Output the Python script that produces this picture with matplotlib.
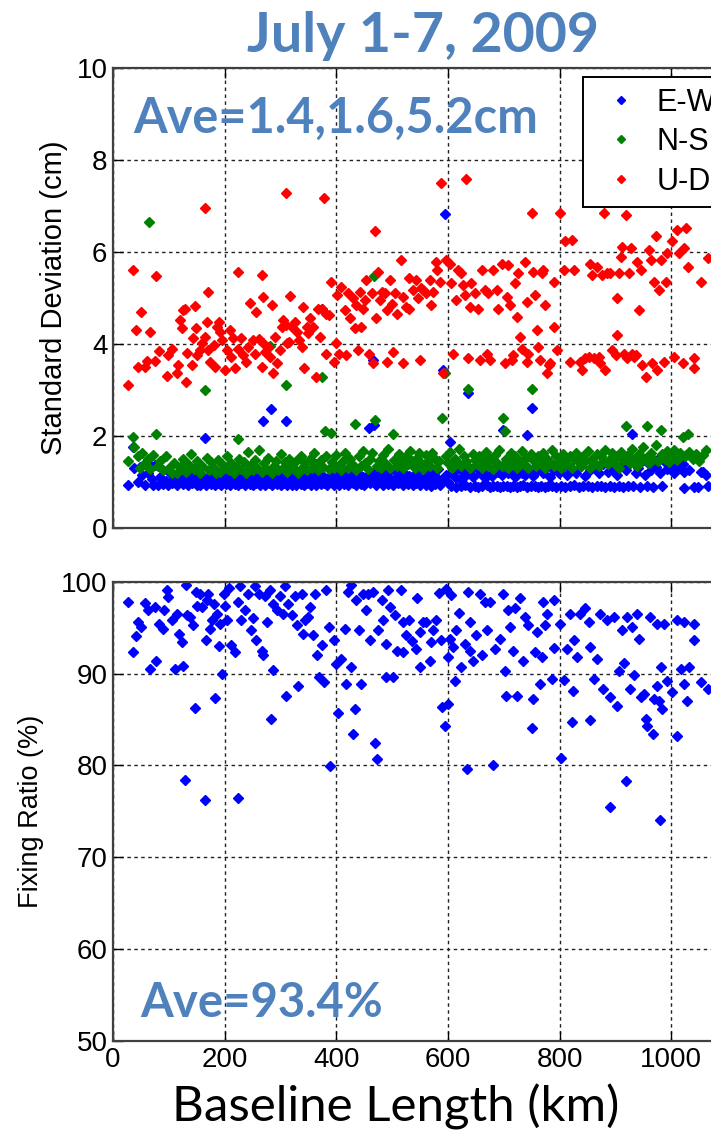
import matplotlib
matplotlib.use("Agg")
from matplotlib import pyplot as plt

# ---- data ----
# E-W standard deviation (cm)
ew_x = [27, 35, 38, 44, 48, 52, 57, 63, 66, 70, 72, 75, 81, 85, 90, 95, 98, 102, 106, 110, 114, 118, 122, 126, 130, 134, 138, 142, 146, 150,
        153, 156, 160, 163, 165, 167, 170, 173, 176, 179, 182, 185, 188, 191, 194, 197, 200, 203, 206, 209, 212, 215, 218, 221, 224, 227, 230, 233, 236, 239,
        242, 245, 248, 251, 254, 257, 260, 263, 266, 268, 270, 273, 276, 279, 282, 283, 285, 288, 291, 294, 297, 300, 303, 306, 309, 310, 312, 315, 318, 321,
        324, 327, 330, 333, 336, 339, 342, 345, 348, 351, 354, 357, 360, 363, 366, 369, 372, 374, 375, 378, 381, 384, 387, 390, 393, 396, 399,
        402, 405, 408, 411, 414, 417, 420, 423, 426, 429, 432, 435, 438, 441, 444, 447, 450, 453, 456, 459, 460, 463, 465, 467, 468, 471, 474, 477, 480,
        483, 486, 489, 492, 495, 498, 501, 504, 507, 510, 513, 516, 519, 522, 525, 528, 531, 534, 537, 540, 543, 546, 549, 552, 555, 558, 561, 564, 567,
        570, 573, 576, 579, 582, 585, 588, 591, 594, 596, 600, 603,
        606, 609, 612, 615, 618, 621, 624, 627, 630, 633, 636, 639, 642, 645, 648, 651, 654, 657, 660, 663, 666, 669, 672, 675, 678, 681, 684, 687, 690, 693,
        696, 698, 699, 702, 705, 708, 711, 714, 717, 720, 723, 726, 729, 732, 735, 738, 741, 742, 745, 748, 750, 752, 755, 758, 761, 764, 767, 770, 773, 776,
        779, 782, 786, 790, 794, 798, 802, 806, 810, 814, 818, 822, 826, 830, 834, 838, 842, 846, 850, 854, 858, 862, 866, 870, 874, 878, 882, 886, 890, 894,
        898, 902, 906, 910, 914, 918, 922, 926, 930, 932, 936, 940, 944, 948, 952, 956, 960, 964, 968, 972, 976, 980, 984, 988, 992, 996, 1000, 1005, 1010, 1015,
        1017, 1020, 1023, 1023, 1026, 1032, 1041, 1047, 1053, 1056, 1062, 1065]
ew_y = [0.93, 1.76, 1.30, 1.00, 1.33, 1.15, 0.93, 1.18, 1.36, 1.05, 0.93, 1.36, 0.93, 1.10, 0.95, 1.02, 0.92, 1.20, 0.97, 1.05, 0.92, 1.00, 1.12, 0.95, 1.00, 0.93, 1.08, 0.97, 1.20, 0.94,
        1.02, 0.92, 1.10, 0.98, 1.96, 0.93, 1.05, 1.14, 0.95, 1.00, 0.92, 1.08, 0.97, 1.20, 0.93, 1.03, 1.12, 0.95, 1.00, 0.92, 1.06, 1.15, 0.96, 1.02, 0.92, 1.10, 0.98, 1.04, 0.93, 1.18,
        1.00, 0.95, 1.08, 0.92, 1.12, 0.98, 1.03, 0.94, 1.20, 2.32, 1.00, 0.92, 1.10, 0.97, 1.05, 2.58, 0.93, 1.15, 1.00, 0.95, 1.07, 0.92, 1.12, 0.98, 1.04, 2.32, 0.93, 1.18, 1.00, 0.94,
        1.09, 0.92, 1.02, 1.14, 0.96, 1.05, 0.93, 1.10, 0.98, 1.22, 0.94, 1.03, 1.12, 0.92, 1.00, 1.08, 0.95, 4.77, 1.15, 0.97, 1.05, 0.93, 1.10, 1.00, 1.25, 0.94, 1.04,
        1.12, 0.93, 1.00, 1.18, 0.96, 1.08, 0.92, 1.03, 1.15, 0.97, 1.06, 0.93, 1.20, 1.00, 0.95, 1.10, 0.92, 1.05, 1.15, 2.18, 0.97, 1.02, 3.65, 2.23, 1.22, 0.94, 1.08, 1.00, 1.12,
        0.92, 1.05, 1.18, 0.96, 1.10, 1.02, 0.93, 1.25, 1.06, 0.97, 1.14, 1.00, 0.92, 1.20, 1.08, 0.95, 1.12, 1.03, 0.92, 1.16, 0.98, 1.22, 0.93, 1.06, 1.30, 1.00, 0.92, 1.14, 1.05,
        0.90, 1.20, 0.96, 1.10, 1.28, 0.92, 1.04, 3.43, 6.83, 1.15, 1.00, 1.87,
        0.90, 1.20, 1.10, 0.88, 1.30, 1.05, 0.90, 1.22, 0.92, 1.15, 2.94, 0.89, 1.25, 1.10, 0.91, 1.35, 0.88, 1.18, 0.90, 1.28, 1.08, 0.92, 1.20, 0.89, 1.12, 0.91, 1.30, 0.90, 1.22, 0.88,
        1.15, 2.13, 0.91, 1.35, 0.90, 1.18, 0.88, 1.25, 0.91, 1.10, 0.89, 1.30, 0.90, 1.20, 0.92, 1.15, 2.02, 0.88, 1.28, 0.90, 2.61, 1.12, 0.91, 1.22, 0.89, 1.35, 0.90, 1.18, 0.88, 1.30,
        0.91, 1.10, 0.90, 1.25, 0.89, 1.20, 0.91, 1.32, 0.88, 1.15, 0.90, 1.28, 0.92, 1.20, 0.89, 1.35, 0.91, 1.12, 0.90, 1.25, 0.88, 1.30, 0.91, 1.18, 0.90, 1.38, 0.89, 1.22, 0.91, 1.28,
        0.88, 1.15, 0.90, 1.35, 0.89, 1.25, 0.91, 1.40, 2.04, 0.90, 1.20, 1.30, 0.88, 1.45, 1.15, 0.90, 1.38, 1.25, 0.89, 1.32, 1.50, 1.20, 0.91, 1.42, 1.28, 1.55, 1.35, 1.20, 1.45, 1.30,
        1.43, 1.38, 1.22, 0.86, 1.58, 1.25, 0.89, 0.88, 1.22, 1.22, 1.15, 0.90]

# N-S standard deviation (cm)
ns_x = [27, 35, 38, 44, 48, 52, 57, 63, 65, 66, 72, 77, 80, 85, 90, 95, 100, 105, 110, 115, 120, 125, 130, 135, 140, 145, 150, 155, 160, 165,
        168, 172, 176, 180, 184, 188, 192, 196, 200, 204, 208, 212, 216, 220, 224, 226, 230, 234, 238, 242, 246, 250, 254, 258, 262, 266, 270, 274, 278, 282,
        284, 288, 292, 296, 300, 304, 308, 310, 312, 316, 320, 324, 328, 332, 336, 340, 344, 348, 352, 356, 360, 364, 368, 372, 374, 376, 380, 382, 386, 390,
        392, 396, 400, 404, 408, 412, 416, 420, 424, 428, 433, 436, 440, 444, 448, 452, 456, 460, 464, 467, 469, 472, 476, 480, 484, 488, 492, 496, 501, 504,
        508, 512, 516, 520, 524, 528, 532, 536, 540, 544, 548, 552, 556, 560, 564, 568, 572, 576, 580, 584, 590, 594, 596, 600, 604, 608, 612, 616, 620, 624,
        628, 632, 636, 640, 644, 648, 652, 656, 660, 664, 668, 672, 676, 680, 684, 688, 692, 696, 699, 702, 704, 708, 712, 716, 720, 724, 728, 732, 736, 740,
        744, 748, 750, 754, 758, 762, 766, 770, 774, 778, 782, 786, 790, 794, 798, 802, 806, 810, 814, 818, 822, 826, 830, 834, 838, 842, 846, 850, 854, 858,
        862, 866, 870, 874, 878, 882, 886, 890, 894, 898, 902, 906, 910, 914, 918, 922, 926, 930, 934, 938, 942, 946, 950, 954, 957, 960, 964, 968, 972, 976,
        981, 984, 988, 992, 996, 1000, 1005, 1010, 1015, 1020, 1024, 1029, 1032, 1038, 1044, 1050, 1056, 1062]
ns_y = [1.45, 1.98, 1.75, 1.55, 1.30, 1.62, 1.40, 1.50, 6.65, 1.28, 1.58, 2.04, 1.35, 1.45, 1.25, 1.55, 1.30, 1.20, 1.40, 1.18, 1.32, 1.50, 1.22, 1.38, 1.60, 1.28, 1.45, 1.20, 1.35, 3.00,
        1.52, 1.25, 1.42, 1.30, 1.18, 1.48, 1.22, 1.38, 1.30, 1.55, 1.25, 1.40, 1.20, 1.33, 1.93, 1.50, 1.27, 1.42, 1.20, 1.65, 1.35, 1.25, 1.48, 1.30, 1.70, 1.22, 1.40, 1.28, 1.52, 3.95,
        1.20, 1.35, 1.45, 1.25, 1.60, 1.30, 1.42, 3.10, 1.22, 1.50, 1.35, 1.28, 1.45, 1.20, 1.55, 1.32, 1.40, 1.25, 1.50, 1.30, 1.62, 1.38, 1.25, 1.48, 3.27, 1.32, 2.11, 1.55, 1.28, 2.07,
        1.42, 1.30, 1.58, 1.35, 1.25, 1.45, 1.62, 1.30, 1.50, 1.38, 2.26, 1.25, 1.55, 1.35, 1.68, 1.40, 1.28, 1.50, 1.62, 5.48, 2.34, 1.35, 1.45, 1.30, 1.58, 1.40, 1.72, 1.30, 2.04, 1.48,
        1.35, 1.60, 1.42, 1.30, 1.55, 1.38, 1.68, 1.45, 1.30, 1.52, 1.62, 1.40, 1.28, 1.58, 1.45, 1.35, 1.62, 1.50, 1.30, 1.45, 2.39, 3.36, 1.55, 1.40, 1.65, 1.30, 1.50, 1.42, 1.72, 1.35,
        1.55, 1.45, 3.01, 1.30, 1.60, 1.48, 1.38, 1.55, 1.30, 1.45, 1.65, 1.35, 1.50, 1.28, 1.58, 1.40, 1.70, 1.35, 2.39, 2.11, 1.50, 1.30, 1.62, 1.42, 1.55, 1.30, 1.48, 1.68, 1.38, 1.52,
        1.30, 1.60, 3.01, 1.45, 1.35, 1.55, 1.40, 1.62, 1.30, 1.50, 1.42, 1.70, 1.35, 1.55, 1.45, 1.30, 1.60, 1.48, 1.38, 1.55, 1.30, 1.50, 1.62, 1.42, 1.35, 1.55, 1.45, 1.68, 1.30, 1.50,
        1.40, 1.60, 1.35, 1.55, 1.45, 1.70, 1.38, 1.50, 1.62, 1.40, 1.55, 1.30, 1.65, 1.48, 2.22, 1.58, 1.40, 1.72, 1.50, 1.35, 1.60, 1.45, 1.75, 1.52, 2.22, 1.40, 1.62, 1.50, 1.80, 1.45,
        2.13, 1.60, 1.50, 1.68, 1.42, 1.55, 1.70, 1.48, 1.62, 1.98, 1.55, 2.05, 1.65, 1.50, 1.60, 1.45, 1.58, 1.70]

# U-D standard deviation (cm)
ud_x = [27, 35, 42, 44, 50, 57, 61, 66, 75, 77, 83, 96, 99, 105, 114, 117, 120, 123, 126, 129, 131, 132, 141, 143, 146, 149, 150, 156, 159, 165,
        165, 168, 170, 171, 174, 180, 183, 186, 189, 192, 195, 200, 204, 209, 212, 215, 218, 224, 224, 230, 233, 239, 242, 245, 251, 254, 257, 262, 266, 266,
        268, 268, 273, 278, 282, 284, 286, 290, 293, 299, 302, 305, 310, 310, 311, 316, 317, 320, 326, 329, 334, 338, 341, 342, 347, 350, 353, 359, 363, 368,
        371, 375, 378, 381, 382, 387, 391, 395, 399, 402, 405, 409, 415, 418, 421, 425, 430, 433, 436, 439, 442, 445, 448, 451, 454, 459, 463, 466, 469, 471,
        475, 478, 481, 487, 490, 491, 496, 499, 502, 505, 508, 516, 519, 519, 525, 531, 531, 537, 543, 546, 549, 552, 555, 561, 567, 570, 573, 578, 580, 585,
        588, 591, 597, 603, 606, 609, 615, 618, 624, 627, 630, 633, 636, 639, 642, 648, 654, 657, 660, 666, 669, 672, 675, 681, 687, 690, 696, 702, 705, 708,
        711, 714, 717, 720, 723, 726, 729, 732, 738, 741, 742, 744, 750, 753, 756, 759, 762, 765, 768, 771, 774, 777, 780, 783, 789, 789, 795, 801, 807, 810,
        819, 822, 825, 837, 840, 846, 852, 855, 858, 861, 867, 870, 873, 876, 879, 882, 885, 891, 894, 900, 903, 903, 906, 909, 912, 915, 918, 921, 924, 927,
        930, 933, 936, 939, 942, 944, 945, 948, 954, 960, 963, 966, 969, 972, 975, 978, 981, 987, 990, 993, 1002, 1005, 1011, 1014, 1020, 1022, 1026, 1029, 1041, 1041,
        1053, 1065]
ud_y = [3.10, 5.60, 4.30, 3.49, 4.69, 3.49, 3.63, 4.27, 3.63, 5.48, 3.85, 3.30, 3.76, 3.90, 3.36, 3.54, 4.52, 4.34, 4.74, 4.77, 3.18, 3.80, 3.54, 4.12, 4.83, 4.34, 3.76, 3.87, 4.01, 6.95,
        4.16, 4.48, 5.12, 3.87, 3.61, 3.98, 3.50, 4.37, 4.48, 4.27, 4.09, 3.43, 3.87, 4.30, 3.72, 4.12, 3.47, 5.57, 3.90, 4.12, 3.76, 3.61, 3.94, 4.90, 4.09, 3.79, 4.70, 4.10, 3.50, 5.50,
        5.02, 4.01, 3.83, 3.94, 3.72, 4.85, 3.36, 4.16, 3.58, 3.87, 4.37, 4.52, 4.41, 7.28, 4.01, 4.05, 5.05, 4.37, 4.48, 4.27, 4.09, 3.94, 4.81, 3.47, 4.37, 4.23, 4.56, 4.37, 3.29, 4.77,
        4.16, 4.77, 7.17, 4.66, 3.79, 4.63, 5.35, 3.61, 4.01, 5.06, 3.79, 5.25, 4.74, 3.76, 5.10, 4.56, 4.99, 4.34, 4.85, 3.87, 5.14, 4.37, 4.77, 4.96, 5.39, 3.79, 5.10, 3.58, 6.45, 4.56,
        5.57, 4.96, 5.14, 5.10, 4.74, 3.61, 5.39, 4.88, 3.83, 5.10, 4.66, 5.83, 5.03, 3.58, 4.81, 5.43, 4.77, 5.17, 5.39, 4.99, 3.65, 5.21, 5.17, 5.10, 5.39, 4.85, 5.14, 5.79, 5.61, 5.35,
        7.50, 3.36, 5.83, 5.75, 5.32, 3.79, 4.96, 5.61, 5.54, 5.28, 5.07, 7.60, 3.69, 4.81, 5.32, 5.10, 4.77, 3.65, 5.61, 5.17, 3.79, 5.10, 3.65, 5.61, 5.17, 4.77, 5.75, 3.58, 5.03, 5.72,
        4.85, 3.65, 3.76, 5.32, 4.59, 5.54, 4.16, 3.90, 5.79, 3.61, 4.92, 3.79, 6.84, 5.57, 5.07, 4.30, 3.94, 3.65, 5.54, 5.61, 4.85, 3.36, 3.54, 3.58, 4.37, 5.35, 3.87, 6.84, 5.61, 6.23,
        3.61, 6.26, 5.61, 3.61, 3.43, 3.69, 3.72, 5.75, 5.50, 3.69, 5.68, 3.72, 3.58, 5.50, 6.84, 3.43, 5.54, 5.54, 3.87, 3.76, 4.99, 4.19, 5.54, 5.90, 6.12, 3.79, 6.80, 3.69, 5.54, 6.08,
        3.79, 3.72, 3.76, 5.79, 4.74, 7.20, 5.61, 3.54, 3.29, 6.05, 5.83, 3.58, 5.35, 6.34, 3.43, 5.17, 5.83, 3.61, 5.35, 5.97, 6.23, 3.72, 6.48, 5.97, 3.58, 6.08, 6.52, 5.68, 3.69, 3.47,
        5.35, 5.86]

# fixing ratio (%)
fr_x = [27, 35, 42, 45, 50, 57, 62, 66, 75, 77, 83, 89, 91, 96, 99, 105, 111, 114, 119, 123, 126, 129, 131, 133, 138, 144, 146, 149, 151, 155,
        159, 165, 166, 168, 171, 174, 177, 180, 183, 187, 189, 192, 195, 198, 201, 204, 207, 212, 218, 224, 224, 227, 230, 236, 242, 248, 251, 254, 257, 262,
        266, 268, 272, 275, 281, 283, 286, 287, 293, 299, 304, 308, 310, 314, 320, 326, 329, 332, 338, 341, 344, 350, 353, 359, 362, 365, 369, 374, 378, 381,
        386, 389, 395, 400, 403, 409, 415, 418, 421, 426, 427, 430, 433, 436, 441, 444, 448, 454, 457, 461, 466, 469, 472, 475, 481, 484, 489, 489, 493, 497,
        502, 505, 508, 516, 519, 519, 525, 531, 536, 542, 545, 549, 550, 555, 561, 568, 570, 573, 578, 584, 588, 589, 594, 596, 600, 600, 603, 606, 609, 612,
        615, 620, 624, 630, 634, 636, 639, 640, 645, 651, 657, 660, 666, 670, 675, 681, 684, 693, 699, 702, 704, 708, 711, 717, 720, 724, 729, 735, 738, 744,
        750, 752, 756, 759, 765, 768, 771, 774, 777, 786, 789, 789, 801, 802, 808, 813, 819, 822, 824, 825, 831, 837, 846, 852, 854, 855, 861, 867, 873, 878,
        885, 890, 891, 897, 903, 906, 912, 915, 918, 921, 926, 930, 933, 939, 942, 945, 951, 954, 957, 962, 968, 969, 974, 975, 978, 980, 981, 984, 987, 992,
        1002, 1010, 1011, 1017, 1022, 1022, 1028, 1032, 1041, 1041, 1053, 1065]
fr_y = [97.8, 92.3, 94.1, 95.6, 95.1, 97.7, 96.9, 90.5, 97.3, 91.4, 95.4, 94.9, 96.9, 99.1, 98.3, 95.8, 90.5, 96.5, 94.3, 93.4, 90.8, 78.4, 99.6, 96.4, 96.2, 95.3, 86.3, 98.9, 97.4, 98.7,
        97.3, 76.2, 93.6, 98.0, 98.7, 94.9, 95.8, 97.6, 87.3, 96.5, 93.0, 95.4, 90.0, 98.7, 97.4, 95.8, 99.3, 93.1, 92.3, 76.5, 97.8, 99.5, 95.8, 96.9, 98.7, 94.7, 96.0, 99.5, 93.6, 98.7,
        92.5, 92.0, 98.4, 95.6, 99.1, 85.1, 90.4, 97.6, 96.9, 98.4, 96.5, 99.5, 87.6, 97.6, 96.4, 98.4, 95.3, 88.6, 98.7, 94.3, 95.8, 96.2, 97.3, 94.2, 98.7, 92.0, 89.6, 93.1, 89.1, 99.1,
        95.1, 79.9, 93.7, 91.0, 85.7, 91.6, 94.9, 88.9, 98.9, 90.7, 99.6, 83.4, 86.1, 98.0, 94.7, 88.9, 98.7, 96.9, 98.7, 93.6, 98.9, 82.4, 80.7, 94.7, 98.0, 95.8, 93.2, 89.6, 99.1, 97.3,
        89.6, 96.4, 92.5, 99.1, 95.6, 92.3, 94.2, 95.8, 93.5, 92.7, 98.2, 90.7, 94.5, 95.6, 95.6, 91.4, 93.4, 94.7, 95.8, 98.8, 93.6, 86.4, 84.3, 99.2, 86.7, 91.8, 93.8, 98.5, 92.9, 89.2,
        94.7, 96.6, 90.7, 93.2, 79.6, 98.9, 95.6, 92.5, 91.4, 94.2, 98.7, 92.0, 97.8, 94.7, 97.8, 80.0, 92.7, 93.8, 98.7, 90.3, 87.6, 96.9, 95.1, 92.5, 97.1, 87.6, 98.2, 91.4, 96.2, 95.3,
        84.1, 87.2, 92.3, 94.5, 88.9, 91.8, 97.8, 95.3, 96.5, 89.4, 98.0, 92.8, 95.4, 80.8, 89.3, 92.7, 96.5, 84.7, 88.1, 93.6, 91.8, 96.5, 97.1, 95.6, 84.9, 92.9, 89.4, 91.6, 96.5, 88.3,
        95.8, 75.5, 87.4, 96.2, 86.5, 90.3, 94.7, 91.2, 78.3, 96.2, 88.3, 95.1, 89.8, 96.5, 93.8, 87.4, 87.8, 85.0, 84.3, 96.2, 83.4, 87.2, 88.7, 95.4, 87.0, 74.1, 90.7, 86.1, 95.4, 89.2,
        88.0, 95.8, 83.2, 90.5, 95.6, 88.9, 87.0, 90.7, 95.4, 93.7, 89.1, 88.3]

legend_labels = ["E-W", "N-S", "U-D"]
title_text = "July 1-7, 2009"
ave_top = "Ave=1.4,1.6,5.2cm"
ave_bottom = "Ave=93.4%"

W, H = 711, 1134
fig = plt.figure(figsize=(W / 100, H / 100), dpi=100)

office_blue = "#4F81BD"
grid_kw = dict(color="#222222", linestyle=(0, (2.5, 2.5)), linewidth=1.0)
ms = 4.6

def px_axes(left, top, right, bottom):
    return fig.add_axes([left / W, 1 - bottom / H, (right - left) / W, (bottom - top) / H])

def style(ax):
    ax.set_xlim(0, 1200)
    ax.set_xticks([0, 200, 400, 600, 800, 1000])
    ax.tick_params(direction="in", length=7, width=1.0, top=True, right=True, pad=4,
                   labelsize=20, colors="black")
    for lab in ax.get_xticklabels() + ax.get_yticklabels():
        lab.set_family("Liberation Sans")
    for s in ax.spines.values():
        s.set_color("#404040")
        s.set_linewidth(1.6)
    ax.grid(True, **grid_kw)
    ax.set_axisbelow(True)

# top panel: standard deviation
ax1 = px_axes(113, 68.3, 783, 527.7)
ax1.plot(ew_x, ew_y, "D", color="#0000FF", ms=ms, mec="#0000FF", label=legend_labels[0])
ax1.plot(ns_x, ns_y, "D", color="#008000", ms=ms, mec="#008000", label=legend_labels[1])
ax1.plot(ud_x, ud_y, "D", color="#FF0000", ms=ms, mec="#FF0000", label=legend_labels[2])
ax1.set_ylim(0, 10)
ax1.set_yticks([0, 2, 4, 6, 8, 10])
style(ax1)
ax1.set_xticklabels([])
ax1.set_ylabel("Standard Deviation (cm)", fontsize=21, family="Liberation Sans", labelpad=6)

leg = ax1.legend(loc="upper left", bbox_to_anchor=(583 / W, 1 - 77 / H), bbox_transform=fig.transFigure,
                 prop=dict(family="Liberation Sans", size=22), markerscale=0.8, handlelength=1.78,
                 handletextpad=0.29, borderpad=0.35, labelspacing=0.31, fancybox=False, framealpha=1,
                 edgecolor="black", borderaxespad=0)
leg.get_frame().set_linewidth(1.4)

ax1.text(133 / W, 1 - 133 / H, ave_top, transform=fig.transFigure, color=office_blue,
         family="Lato", weight="bold", fontsize=35, ha="left", va="baseline")

# bottom panel: fixing ratio
ax2 = px_axes(113, 581.7, 783, 1041)
ax2.plot(fr_x, fr_y, "D", color="#0000FF", ms=ms, mec="#0000FF")
ax2.set_ylim(50, 100)
ax2.set_yticks([50, 60, 70, 80, 90, 100])
style(ax2)
ax2.set_ylabel("Fixing Ratio (%)", fontsize=19.5, family="Liberation Sans", labelpad=12)

ax2.text(140 / W, 1 - 1017 / H, ave_bottom, transform=fig.transFigure, color=office_blue,
         family="Lato", weight="bold", fontsize=34, ha="left", va="baseline")

fig.text(423 / W, 1 - 52 / H, title_text, color=office_blue, family="Lato", weight="bold",
         fontsize=40, ha="center", va="baseline")
fig.text(396 / W, 1 - 1122 / H, "Baseline Length (km)", color="black", family="Lato",
         fontsize=35.5, ha="center", va="baseline")

fig.savefig("out.png", dpi=100)
